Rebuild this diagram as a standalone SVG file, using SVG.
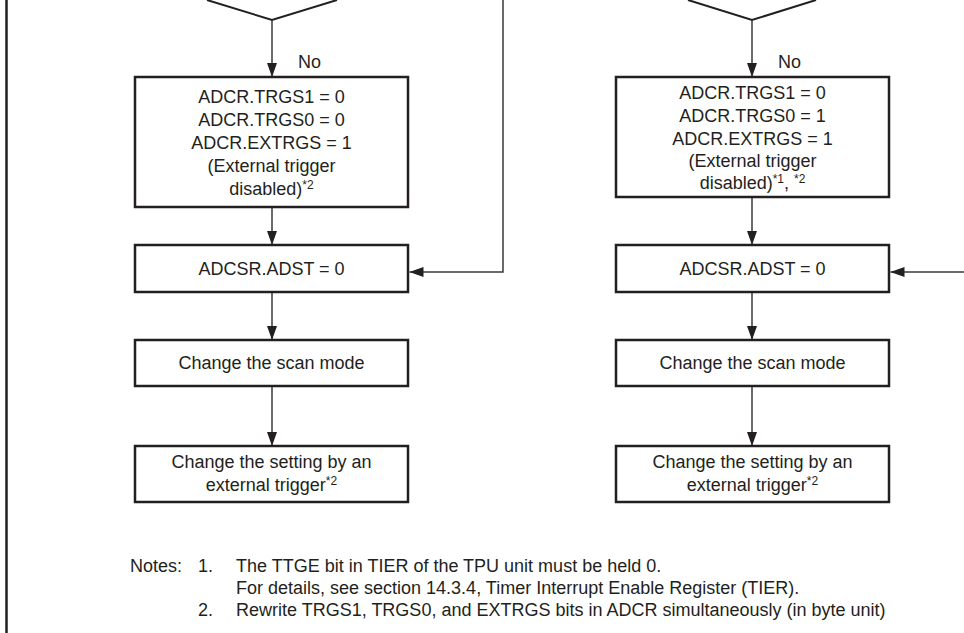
<svg xmlns="http://www.w3.org/2000/svg" width="964" height="633" viewBox="0 0 964 633">
  <style>
    .box { fill: #ffffff; stroke: #231f20; stroke-width: 2.5; }
    .dia { fill: none; stroke: #231f20; stroke-width: 2; }
    .frame { fill: none; stroke: #231f20; stroke-width: 2.5; }
    .conn { fill: none; stroke: #3a3a3a; stroke-width: 1.5; }
    text { font-family: "Liberation Sans", Arial, Helvetica, sans-serif; font-size: 18px; fill: #231f20; }
    .c { text-anchor: middle; }
    .sup { font-size: 12px; }
  </style>
  <defs>
    <marker id="arrow" markerUnits="userSpaceOnUse" markerWidth="14" markerHeight="10" viewBox="0 0 14 10" refX="14" refY="5" orient="auto">
      <path d="M0,0 L14,5 L0,10 Z" fill="#231f20"/>
    </marker>
  </defs>

  <rect width="964" height="633" fill="#ffffff"/>

  <!-- left page frame -->
  <line class="frame" x1="6.5" y1="0" x2="6.5" y2="633"/>

  <!-- decision diamonds (lower halves) -->
  <g id="decision-left">
    <polyline class="dia" points="207,0 272,20 337,0"/>
  </g>
  <g id="decision-right">
    <polyline class="dia" points="688,0 752,20 816,0"/>
  </g>

  <!-- connectors -->
  <g id="connectors">
    <line class="conn" x1="272" y1="20" x2="272" y2="77" marker-end="url(#arrow)"/>
    <line class="conn" x1="272" y1="207" x2="272" y2="245" marker-end="url(#arrow)"/>
    <line class="conn" x1="272" y1="292" x2="272" y2="340" marker-end="url(#arrow)"/>
    <line class="conn" x1="272" y1="386" x2="272" y2="446" marker-end="url(#arrow)"/>
    <polyline class="conn" points="503,0 503,272 409.5,272" marker-end="url(#arrow)"/>

    <line class="conn" x1="752" y1="20" x2="752" y2="77" marker-end="url(#arrow)"/>
    <line class="conn" x1="752" y1="197" x2="752" y2="245" marker-end="url(#arrow)"/>
    <line class="conn" x1="752" y1="292" x2="752" y2="340" marker-end="url(#arrow)"/>
    <line class="conn" x1="752" y1="386" x2="752" y2="446" marker-end="url(#arrow)"/>
    <line class="conn" x1="964" y1="272" x2="890.5" y2="272" marker-end="url(#arrow)"/>

    <text x="298" y="68">No</text>
    <text x="778" y="68">No</text>
  </g>

  <!-- left column -->
  <g id="left-set-trigger">
    <rect class="box" x="135" y="77" width="273" height="130"/>
    <text class="c" x="271.5" y="103">ADCR.TRGS1 = 0</text>
    <text class="c" x="271.5" y="126">ADCR.TRGS0 = 0</text>
    <text class="c" x="271.5" y="149">ADCR.EXTRGS = 1</text>
    <text class="c" x="271.5" y="172">(External trigger</text>
    <text class="c" x="271.5" y="195">disabled)<tspan class="sup" dy="-6">*2</tspan></text>
  </g>
  <g id="left-adst">
    <rect class="box" x="135" y="245" width="273" height="47"/>
    <text class="c" x="271.5" y="275">ADCSR.ADST = 0</text>
  </g>
  <g id="left-scan-mode">
    <rect class="box" x="135" y="340" width="273" height="46"/>
    <text class="c" x="271.5" y="369">Change the scan mode</text>
  </g>
  <g id="left-ext-trigger">
    <rect class="box" x="135" y="446" width="273" height="56"/>
    <text class="c" x="271.5" y="468">Change the setting by an</text>
    <text class="c" x="271.5" y="491">external trigger<tspan class="sup" dy="-6">*2</tspan></text>
  </g>

  <!-- right column -->
  <g id="right-set-trigger">
    <rect class="box" x="616" y="77" width="273" height="120"/>
    <text class="c" x="752.5" y="99">ADCR.TRGS1 = 0</text>
    <text class="c" x="752.5" y="122">ADCR.TRGS0 = 1</text>
    <text class="c" x="752.5" y="145">ADCR.EXTRGS = 1</text>
    <text class="c" x="752.5" y="167">(External trigger</text>
    <text class="c" x="752.5" y="189">disabled)<tspan class="sup" dy="-6">*1</tspan><tspan dy="6">, </tspan><tspan class="sup" dy="-6">*2</tspan></text>
  </g>
  <g id="right-adst">
    <rect class="box" x="616" y="245" width="273" height="47"/>
    <text class="c" x="752.5" y="275">ADCSR.ADST = 0</text>
  </g>
  <g id="right-scan-mode">
    <rect class="box" x="616" y="340" width="273" height="46"/>
    <text class="c" x="752.5" y="369">Change the scan mode</text>
  </g>
  <g id="right-ext-trigger">
    <rect class="box" x="616" y="446" width="273" height="56"/>
    <text class="c" x="752.5" y="468">Change the setting by an</text>
    <text class="c" x="752.5" y="491">external trigger<tspan class="sup" dy="-6">*2</tspan></text>
  </g>

  <!-- notes -->
  <g id="notes">
    <text x="130" y="572">Notes:</text>
    <text x="198" y="572">1.</text>
    <text x="236" y="572">The TTGE bit in TIER of the TPU unit must be held 0.</text>
    <text x="236" y="594">For details, see section 14.3.4, Timer Interrupt Enable Register (TIER).</text>
    <text x="198" y="616">2.</text>
    <text x="236" y="616">Rewrite TRGS1, TRGS0, and EXTRGS bits in ADCR simultaneously (in byte unit)</text>
  </g>
</svg>
